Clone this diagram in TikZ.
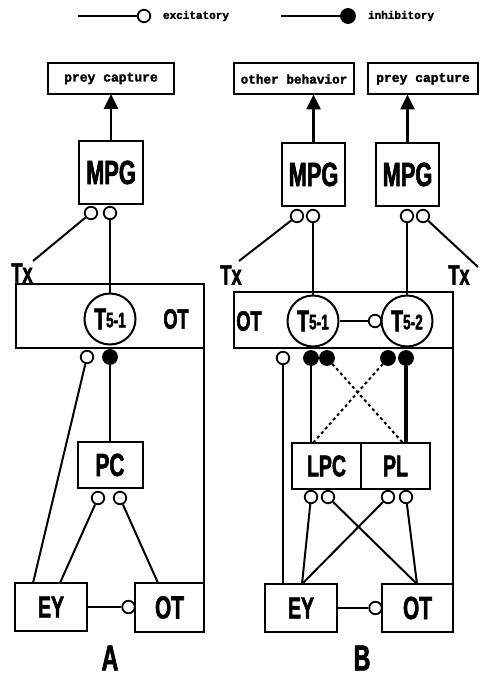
\documentclass[tikz,border=0pt]{standalone}
\usepackage{fontspec}
\setmainfont{Liberation Sans}
\newfontfamily\cond{Liberation Sans}[UprightFont=* Bold,FakeStretch=0.65,FakeBold=1.8]
\newfontfamily\monob{Liberation Mono}[UprightFont=* Bold,FakeBold=2]
\usetikzlibrary{arrows.meta,calc}
\newcommand{\tlabel}[1]{{\fontsize{30}{30}\selectfont T}\raisebox{2pt}{\fontsize{21}{21}\selectfont #1}}
\begin{document}
\begin{tikzpicture}[x=1pt,y=-1pt,line width=2pt,
  box/.style={draw,line width=2pt,inner sep=0pt,outer sep=0pt,font=\cond\fontsize{30}{30}\selectfont},
  txtbox/.style={draw,line width=2pt,inner sep=0pt,outer sep=0pt,minimum height=31pt,font=\monob\fontsize{13}{13}\selectfont},
  cell/.style={draw,circle,line width=2pt,minimum size=51pt,inner sep=0pt,fill=white,font=\cond},
  exc/.style={draw,circle,line width=1.8pt,minimum size=12.5pt,inner sep=0pt,fill=white},
  inh/.style={draw,circle,line width=1.8pt,minimum size=14pt,inner sep=0pt,fill=black},
  lbl/.style={font=\cond\fontsize{28}{28}\selectfont,inner sep=0pt},
  panel/.style={font=\cond\fontsize{36}{36}\selectfont,inner sep=0pt},
  arr/.style={line width=2.6pt,-{Triangle[length=15pt,width=14pt]}},
  dsh/.style={dash pattern=on 3pt off 3pt,line width=2pt}]
\useasboundingbox (0,0) rectangle (480,676);

% legend
\coordinate (lEs) at (78,16);
\node[exc] (lE) at (144,16) {};
\node[anchor=west,inner sep=0pt,font=\monob\fontsize{11}{11}\selectfont] (lEt) at (162,16) {excitatory};
\draw (lEs) -- (lE);
\coordinate (lIs) at (281,16);
\node[inh] (lI) at (348,16) {};
\node[anchor=west,inner sep=0pt,font=\monob\fontsize{11}{11}\selectfont] (lIt) at (367,16) {inhibitory};
\draw (lIs) -- (lI);

% ================= Panel A =================
\node[txtbox,minimum width=126pt] (preyA) at (111,78.5) {prey capture};
\node[box,minimum width=64pt,minimum height=63pt,font=\cond\fontsize{33.5}{33.5}\selectfont] (mpgA) at (111,172.5) {MPG};
\draw[arr] (mpgA) -- (preyA);
\node[exc] (mA1) at (91,213) {};
\node[exc] (mA2) at (110,213) {};
\node[lbl] (txA) at (22,273) {Tx};
\coordinate (txAe) at (33,261);
\draw (mA1) -- (txAe);

\node[box,minimum width=188pt,minimum height=64pt] (otA) at (110,316) {};
\node[cell] (t51A) at (110,319) {\tlabel{5-1}};
\node[lbl] (otAl) at (176,319) {OT};
\draw (mA2) -- (t51A);

\node[exc] (oA) at (87,357) {};
\node[inh] (iA) at (110,357) {};
\node[box,minimum width=65pt,minimum height=46pt,font=\cond\fontsize{32}{32}\selectfont] (pcA) at (110,465) {PC};
\draw (iA) -- (pcA);
\node[exc] (pA1) at (98,498) {};
\node[exc] (pA2) at (120,498) {};

\node[box,minimum width=72pt,minimum height=48pt] (eyA) at (51,607) {EY};
\node[box,minimum width=69pt,minimum height=49pt,font=\cond\fontsize{32}{32}\selectfont] (otbA) at (169.5,607.5) {OT};
\coordinate (eyA1) at (33,583);
\coordinate (eyA2) at (60,583);
\coordinate (otbA1) at (158,583);
\draw (oA) -- (eyA1);
\draw (pA1) -- (eyA2);
\draw (pA2) -- (otbA1);
\node[exc] (eA) at (128.5,607) {};
\draw (eyA.east) -- (eA);
\draw (otA.south east) -- (otbA.north east);
\node[panel] (labA) at (110,658) {A};

% ================= Panel B =================
\node[txtbox,minimum width=120pt,font=\monob\fontsize{12.7}{12.7}\selectfont] (othB) at (294,79) {other behavior};
\node[txtbox,minimum width=110pt] (preyB) at (423,79) {prey capture};
\node[box,minimum width=63pt,minimum height=63pt,font=\cond\fontsize{33.5}{33.5}\selectfont] (mpgB1) at (313.5,174.5) {MPG};
\node[box,minimum width=63pt,minimum height=63pt,font=\cond\fontsize{33.5}{33.5}\selectfont] (mpgB2) at (407.5,174.5) {MPG};
\draw[arr] (mpgB1.north) -- (mpgB1.north |- othB.south);
\draw[arr] (mpgB2.north) -- (mpgB2.north |- preyB.south);
\node[exc] (b1) at (297,216) {};
\node[exc] (b2) at (313,216) {};
\node[exc] (b3) at (407,216) {};
\node[exc] (b4) at (423,216) {};
\node[lbl] (txB1) at (231,275) {Tx};
\node[lbl] (txB2) at (459,275) {Tx};
\coordinate (txB1e) at (239,261);
\coordinate (txB2e) at (478,267);
\draw (b1) -- (txB1e);
\draw (b4) -- (txB2e);

\node[box,minimum width=219pt,minimum height=56pt] (otB) at (343.5,320) {};
\node[cell] (t51B) at (313,321) {\tlabel{5-1}};
\node[cell] (t52B) at (407,321) {\tlabel{5-2}};
\node[lbl] (otBl) at (249,321) {OT};
\draw (b2) -- (t51B);
\draw (b3) -- (t52B);
\node[exc] (eT) at (375,321) {};
\draw (t51B) -- (eT);

\node[exc] (oB) at (283,358) {};
\node[inh] (iB1) at (311,358) {};
\node[inh] (iB2) at (327,358) {};
\node[inh] (iB3) at (388,358) {};
\node[inh] (iB4) at (406,358) {};

\node[box,minimum width=69pt,minimum height=46pt] (lpcB) at (326.5,466) {LPC};
\node[box,minimum width=69pt,minimum height=46pt] (plB) at (395.5,466) {PL};
\draw (iB1) -- (iB1 |- lpcB.north);
\draw[line width=3.2pt] (iB4) -- (iB4 |- plB.north);
\coordinate (plBd) at (403,443);
\coordinate (lpcBd) at (313,443);
\draw[dsh] (iB2) -- (plBd);
\draw[dsh] (iB3) -- (lpcBd);

\node[exc] (q1) at (311,497) {};
\node[exc] (q2) at (328,497) {};
\node[exc] (q3) at (388,497) {};
\node[exc] (q4) at (406,497) {};

\node[box,minimum width=72pt,minimum height=48pt] (eyB) at (301,608) {EY};
\node[box,minimum width=71pt,minimum height=48pt,font=\cond\fontsize{32}{32}\selectfont] (otbB) at (417.5,608) {OT};
\coordinate (eyB1) at (283,584);
\coordinate (eyB2) at (302,584);
\coordinate (otbB1) at (417,584);
\draw (oB) -- (eyB1);
\draw (q1) -- (eyB2);
\draw (q3) -- (eyB2);
\draw (q2) -- (otbB1);
\draw (q4) -- (otbB1);
\node[exc] (eB) at (375.5,608) {};
\draw (eyB.east) -- (eB);
\draw (otB.south east) -- (otbB.north east);
\node[panel] (labB) at (362,658) {B};
\end{tikzpicture}
\end{document}
